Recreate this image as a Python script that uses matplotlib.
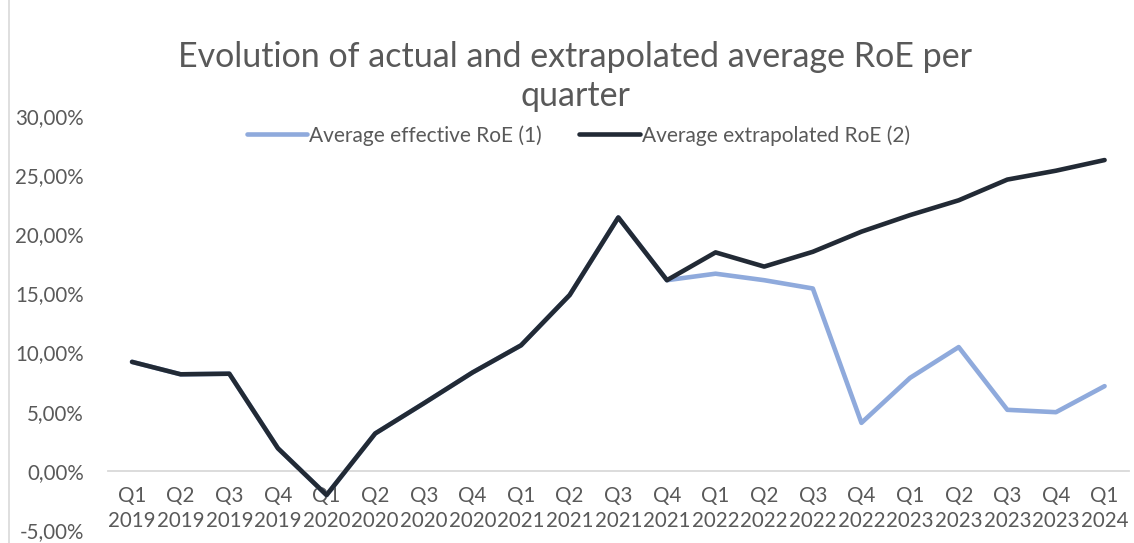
import matplotlib
matplotlib.use("Agg")
import matplotlib.pyplot as plt
from matplotlib.lines import Line2D
from matplotlib.ticker import FuncFormatter

quarters = ["Q1\n2019", "Q2\n2019", "Q3\n2019", "Q4\n2019",
            "Q1\n2020", "Q2\n2020", "Q3\n2020", "Q4\n2020",
            "Q1\n2021", "Q2\n2021", "Q3\n2021", "Q4\n2021",
            "Q1\n2022", "Q2\n2022", "Q3\n2022", "Q4\n2022",
            "Q1\n2023", "Q2\n2023", "Q3\n2023", "Q4\n2023",
            "Q1\n2024"]

# average extrapolated RoE (2), in %
extrapolated = [9.2, 8.15, 8.2, 1.9, -2.05, 3.15, 5.7, 8.3, 10.6, 14.85,
                21.4, 16.1, 18.45, 17.25, 18.5, 20.2, 21.6, 22.85, 24.6, 25.35, 26.25]
# average effective RoE (1), in % (same as (2) until Q4 2021)
effective = [9.2, 8.15, 8.2, 1.9, -2.05, 3.15, 5.7, 8.3, 10.6, 14.85,
             21.4, 16.1, 16.65, 16.1, 15.4, 4.05, 7.85, 10.45, 5.15, 4.95, 7.15]

light_blue = "#8FAADC"
dark_navy = "#222A35"
grey_txt = "#595959"

plt.rcParams["font.family"] = ["Lato", "DejaVu Sans"]

fig = plt.figure(figsize=(11.34, 5.43), dpi=100)
ax = fig.add_axes([0.095, 0.024, 0.9005, 0.763])

x = list(range(len(quarters)))
ax.plot(x, effective, color=light_blue, lw=3.3, solid_capstyle="round",
        solid_joinstyle="round", label="Average effective RoE (1)", zorder=2)
ax.plot(x, extrapolated, color=dark_navy, lw=3.3, solid_capstyle="round",
        solid_joinstyle="round", label="Average extrapolated RoE (2)", zorder=3)

ax.set_xlim(-0.5, len(quarters) - 0.5)
ax.set_ylim(-5, 30)
ax.set_yticks(range(-5, 31, 5))
ax.yaxis.set_major_formatter(FuncFormatter(lambda v, p: f"{v:.2f}%".replace(".", ",")))
ax.set_xticks(x)
ax.set_xticklabels(quarters)

for s in ["top", "right", "left"]:
    ax.spines[s].set_visible(False)
ax.spines["bottom"].set_position(("data", 0))
ax.spines["bottom"].set_color("#D9D9D9")
ax.spines["bottom"].set_linewidth(1.3)
ax.tick_params(axis="both", length=0, labelsize=14.8, colors=grey_txt)
ax.tick_params(axis="y", pad=17)
ax.tick_params(axis="x", pad=11)
for lab in ax.get_xticklabels():
    lab.set_linespacing(1.3)

fig.text(0.507, 0.86, "Evolution of actual and extrapolated average RoE per\nquarter",
         ha="center", va="center", fontsize=24.5, color=grey_txt, linespacing=1.27)

fig.legend(loc="center", bbox_to_anchor=(0.51, 0.751), ncol=2, frameon=False,
           fontsize=15, handlelength=2.9, handletextpad=0.1, columnspacing=1.8,
           labelcolor=grey_txt)

fig.add_artist(Line2D([0.008, 0.008], [0, 1], transform=fig.transFigure,
                      color="#D9D9D9", lw=1.2))

fig.savefig("out.png", dpi=100)
